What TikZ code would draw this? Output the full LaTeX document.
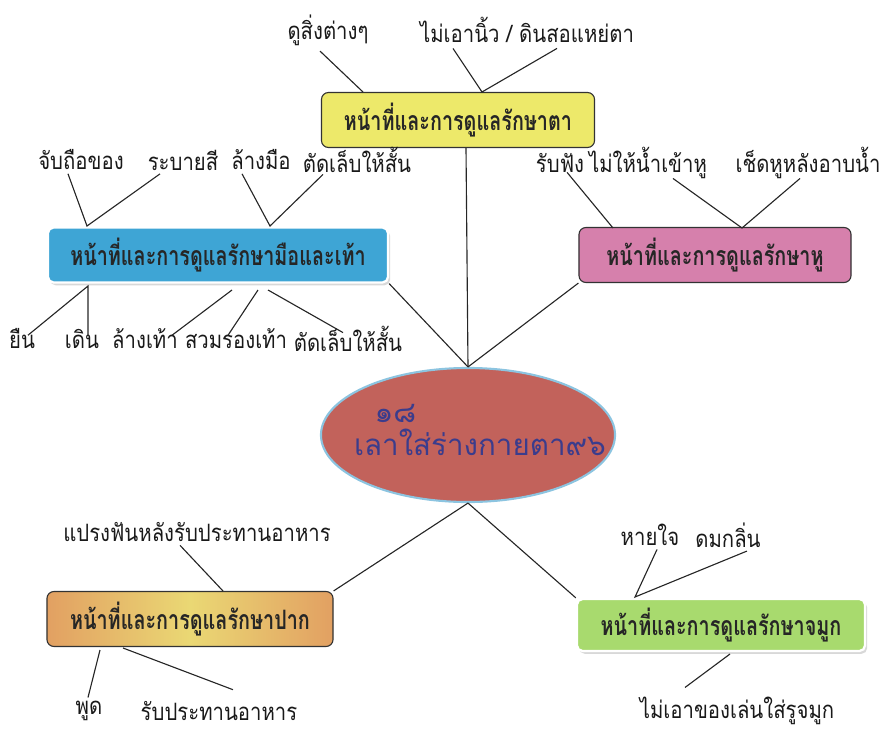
\documentclass[tikz,border=0pt]{standalone}
\usepackage{fontspec}
\setmainfont[Script=Thai]{Loma}
\newfontfamily\titlefont[Script=Thai,FakeStretch=0.74]{Loma}
\newfontfamily\itemfont[Script=Thai,FakeStretch=0.85]{Loma}
\usetikzlibrary{calc,shadows,shapes.geometric}
\definecolor{eyefill}{HTML}{EDE96A}
\definecolor{handfill}{HTML}{3EA5D5}
\definecolor{earfill}{HTML}{D680AC}
\definecolor{mouthA}{HTML}{E2A062}
\definecolor{mouthB}{HTML}{EAD874}
\definecolor{nosefill}{HTML}{A8DA6E}
\definecolor{corefill}{HTML}{C2625B}
\definecolor{corerim}{HTML}{8CC4E0}
\definecolor{pen}{HTML}{3B3C8C}

\begin{document}
\begin{tikzpicture}[x=0.025cm, y=-0.025cm,
    topic/.style={draw=black!80, thick, rounded corners=5pt, minimum height=1.375cm, font=\titlefont\fontsize{19}{22}\selectfont\bfseries, text=black!85},
    glossy/.style={draw=white, line width=1.6pt, rounded corners=4pt, drop shadow={shadow xshift=1.5pt, shadow yshift=-2pt, fill=black!30}},
    item/.style={font=\itemfont\fontsize{17}{20}\selectfont, inner sep=1pt, text=black!90},
    link/.style={thick, black!85}
]
\useasboundingbox (0,0) rectangle (894,729);

% centre
\node[ellipse, draw=corerim, line width=1.5pt, fill=corefill, minimum width=7.35cm, minimum height=3.35cm] (core) at (468,435) {};
\node[align=left, text=pen, font=\fontsize{21}{24}\selectfont, inner sep=0pt] (coretext) at (480,430) {\hspace*{0.7em}๑๘\\เลาใส่ร่างกายตา๙๖};

% topic boxes
\node[topic, fill=eyefill, minimum width=6.825cm] (eye) at (458,120) {หน้าที่และการดูแลรักษาตา};
\node[topic, glossy, fill=handfill, minimum width=8.5cm] (hand) at (218,255) {หน้าที่และการดูแลรักษามือและเท้า};
\node[topic, fill=earfill, minimum width=6.8cm] (ear) at (715,255) {หน้าที่และการดูแลรักษาหู};
\node[topic, left color=mouthA, right color=mouthA, middle color=mouthB, minimum width=7.15cm] (mouth) at (190,619) {หน้าที่และการดูแลรักษาปาก};
\node[topic, glossy, fill=nosefill, minimum width=7.2cm, minimum height=1.3cm] (nose) at (721,625) {หน้าที่และการดูแลรักษาจมูก};

% items
\node[item] (eye1) at (328,30) {ดูสิ่งต่างๆ};
\node[item] (eye2) at (527,30) {ไม่เอานิ้ว / ดินสอแหย่ตา};
\node[item] (hand1) at (81,160) {จับถือของ};
\node[item] (hand2) at (183,160) {ระบายสี};
\node[item] (hand3) at (261,160) {ล้างมือ};
\node[item] (hand4) at (357,160) {ตัดเล็บให้สั้น};
\node[item] (foot1) at (22,339) {ยืน};
\node[item] (foot2) at (82,339) {เดิน};
\node[item] (foot3) at (145,339) {ล้างเท้า};
\node[item] (foot4) at (236,339) {สวมรองเท้า};
\node[item] (foot5) at (348,339) {ตัดเล็บให้สั้น};
\node[item] (ear1) at (560,163) {รับฟัง};
\node[item] (ear2) at (648,163) {ไม่ให้น้ำเข้าหู};
\node[item] (ear3) at (808,163) {เช็ดหูหลังอาบน้ำ};
\node[item] (mouth1) at (197,532) {แปรงฟันหลังรับประทานอาหาร};
\node[item] (mouth2) at (89,711) {พูด};
\node[item] (mouth3) at (219,711) {รับประทานอาหาร};
\node[item] (nose1) at (650,535) {หายใจ};
\node[item] (nose2) at (728,535) {ดมกลิ่น};
\node[item] (nose3) at (737,711) {ไม่เอาของเล่นใส่รูจมูก};

% joins on the boxes
\coordinate (eyeA) at (363,92);
\coordinate (eyeB) at (482,92);
\coordinate (handA) at (87,226);
\coordinate (handB) at (270,226);
\coordinate (footA) at (88,286);
\coordinate (footB) at (232,290);
\coordinate (footC) at (258,290);
\coordinate (footD) at (268,290);
\coordinate (earA) at (613,228);
\coordinate (earB) at (742,228);
\coordinate (mouthA) at (223,591);
\coordinate (mouthB) at (100,650);
\coordinate (mouthC) at (123,648);
\coordinate (noseA) at (635,597);
\coordinate (noseB) at (730,654);

% to the centre
\draw[link] (eye.south) ++(8,0) -- (core.north);
\draw[link] (hand.south east) -- (core.north);
\draw[link] (ear.south west) -- (core.north);
\draw[link] (mouth.north east) -- (core.south);
\draw[link] (nose.north west) -- (core.south);

% eye
\draw[link] ($(eye1.south)+(-8,4)$) -- (eyeA);
\draw[link] ($(eye2.south)+(-74,4)$) -- (eyeB) -- ($(eye2.south)+(30,4)$);
% hand
\draw[link] ($(hand1.south)+(-13,2)$) -- (handA) -- ($(hand2.south)+(-23,2)$);
\draw[link] ($(hand3.south)+(-19,2)$) -- (handB) -- ($(hand4.south)+(-34,0)$);
% foot
\draw[link] ($(foot1.north)+(6,8)$) -- (footA) -- ($(foot2.north)+(6,8)$);
\draw[link] ($(foot3.north)+(27,8)$) -- (footB);
\draw[link] ($(foot4.north)+(-8,8)$) -- (footC);
\draw[link] ($(foot5.north)+(-5,8)$) -- (footD);
% ear
\draw[link] ($(ear1.south)+(7,-2)$) -- (earA);
\draw[link] ($(ear2.south)+(25,-2)$) -- (earB) -- ($(ear3.south)+(-8,-2)$);
% mouth
\draw[link] ($(mouth1.south)+(-17,2)$) -- (mouthA);
\draw[link] ($(mouth2.north)+(-1,-2)$) -- (mouthB);
\draw[link] ($(mouth3.north)+(14,-10)$) -- (mouthC);
% nose
\draw[link] ($(nose1.south)+(7,2)$) -- (noseA) -- ($(nose2.south)+(19,2)$);
\draw[link] ($(nose3.north)+(-52,-8)$) -- (noseB);
\end{tikzpicture}
\end{document}
